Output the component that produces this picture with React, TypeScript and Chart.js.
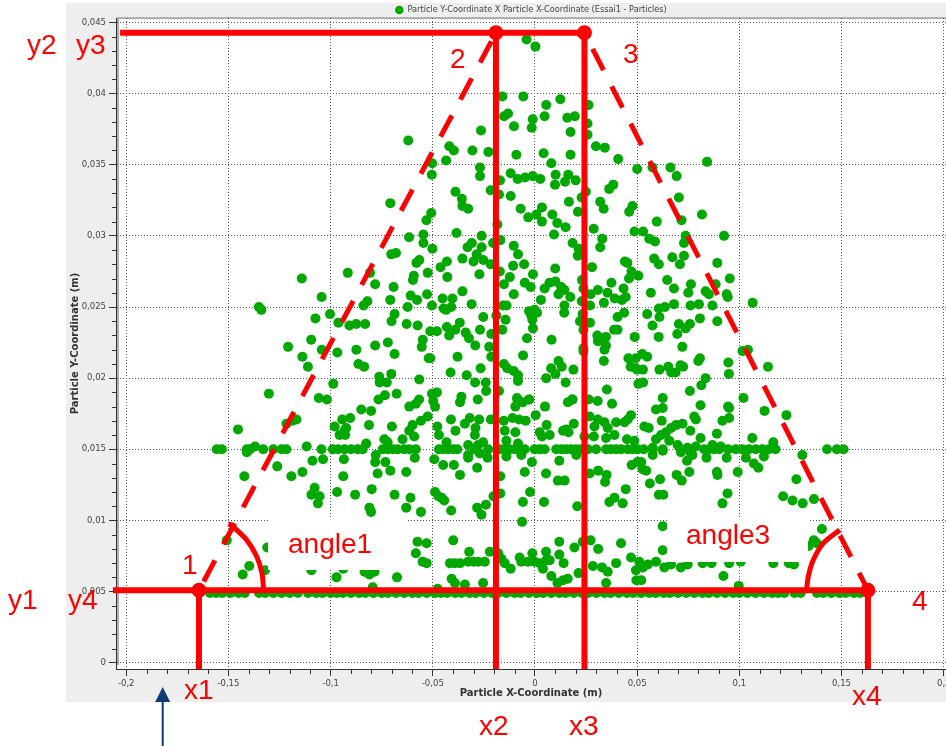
import React, { useEffect, useRef } from "react";
import { Chart, registerables } from "chart.js";

Chart.register(...registerables);

// All particle coordinates are in millimetres: [x, y].
const bandTop = [[-4.1,43.8],[0.2,43.3],[-16,39.8],[-5.7,39.8],[12.4,39.6],[5.5,39.2],[26.2,39.2],[-13.2,38.6],[-15.1,38.4],[-1.1,38.2],[4.7,38.4],[15.8,38.3],[19.5,38.4],[-10.3,37.7],[-1.6,37.6],[25.7,37.9],[-26.4,37.4],[17.4,37.3],[25.7,37.1],[-62,36.7],[-41.9,36.3],[-39.7,36],[-30.6,36],[-22.8,35.9],[29.8,36.3],[34.2,36.2],[-9.1,35.7],[4.2,35.8],[17.4,35.7],[40.7,35.4],[-43.5,35.3],[-50.3,35.1],[8,35.1],[-26.9,34.8],[-26.9,34.2],[-50.5,34.3],[-11.9,34.4],[-17.1,33.9],[-8.5,34],[-4.9,34.1],[-1.1,34.2],[2.6,34],[10.1,34.3],[16.3,34.3],[14.7,33.8],[9.8,33.6],[19.9,33.9],[50,34.7],[-38.9,33.1],[-21.7,33.2],[-17.6,32.9],[24.9,33.1],[38.3,33.6],[36.3,33.3],[-11.9,32.8],[-35.8,32.6],[22.8,32.7],[-70.8,32.3],[31.9,32.4],[47.7,32.1],[33.6,31.9],[-35.5,32.1],[-32.7,31.9],[16.6,32.4],[-7,31.9],[3.4,32],[21,31.7],[46.1,31.7],[-50.8,31.6],[-53.1,31.1],[0.7,31.5],[-3.3,31.3],[8.5,31.5],[3.4,31],[10.9,30.9],[15,30.6],[-18.4,30.8],[28.7,30.5],[48.7,30.3],[-38.4,30.2],[-54.6,30.1],[-26.1,30],[9.3,30.1],[-61.6,29.9],[-54.6,29.5],[-16.9,29.7],[-20.5,29.5],[-30.9,29.5],[-33,29.2],[-26.1,29.2],[-10.4,29.3],[18.4,29.5],[32.9,29.8],[31.9,29.2],[21.3,29.1],[-50.2,29.1]];

const bandUpperMid = [[-35.5,28.4],[-43.1,28.2],[-46.2,27.8],[-42.9,27.1],[-28.5,28.7],[-30.1,28.2],[-25.3,28.3],[-21.7,28],[-27.2,27.3],[-8.3,28.7],[-10.7,27.9],[-5.3,28],[-1,27.3],[-17.2,27.5],[-12.3,27.1],[-15.2,26.6],[-5,26.7],[-2.1,26.4],[20.9,28.6],[27.9,27.8],[9.9,27.7],[45.2,28.1],[44,28.2],[47.2,27.5],[46,27],[50.6,27.2],[37.4,26.7],[23,26.9],[10,26.8],[7.1,26.7],[4.7,26.3],[12.8,26.4],[14.4,26.2],[11.5,25.9],[43.3,26.3],[30.8,26.2],[35.5,26],[23.7,26.3],[27.2,25.9],[-35.5,26.1],[-10.4,25.9],[17.3,25.7],[44.4,25.7],[39,25.6],[42.5,25.5],[-45.2,25.6],[-40.4,25.6],[2.9,25.5],[33.7,25.3],[22.9,25.4],[26.9,25.1],[-31,25.2],[-50.4,25.1],[-41,25],[-44.7,24.9],[-43.5,24.8],[-15.6,25.1],[-13.9,25.1],[14.4,25.1],[14.3,24.6],[-2.9,24.7],[-0.2,24.8],[1,24.6],[-1.8,24.4],[-1.3,24.1],[-1,23.5],[43.6,24.6],[40.4,24.3],[-25.3,24.3],[-14.4,24.1],[-18.9,24.4],[23.3,24.5],[22,24],[26.9,23.9],[-36.8,23.9],[-43.1,23.6],[-39,23.4],[-48,23.3],[-51.2,23.3],[-33.9,23.2],[-42,23],[-26.9,23.4],[-16,23.4],[23.7,23.4],[38.7,23.4],[40.4,23.4],[-21.4,23.1],[-32.3,22.8],[30.5,23],[34.7,22.9],[48.8,22.9],[30.8,22.6],[-3.9,22.8],[8.1,22.7],[-29.2,22.3],[34.7,22.3],[34,22],[-22.4,22.2],[23.7,22.1],[23.7,21.9],[-37.9,21.5],[-5.8,21.6],[-21.4,21.5],[-51.2,21.4],[45.7,21.4],[49.3,21.4],[33.7,21.2],[11.5,21.2],[-15.2,21],[-13.6,20.7],[13.1,20.8],[7.9,20.7],[-26.6,20.7],[18.8,20.6],[46.8,20.8],[50,20.6],[-10.4,20.5],[-8.3,20.2],[-41.3,20.4],[10,20.3],[-33.4,20.2],[5.5,20],[-8.3,19.8],[-29.3,19.7],[-24.1,19.7],[15,19.7],[-23.9,19.1],[-17.6,19.1],[35.2,19.2],[50.6,19.6],[-48,19],[-50.4,18.9],[-36,18.7],[-8.8,18.6],[-2.9,18.5],[18.2,18.5],[-28,18.5],[26.3,18.5]];

const bandRightUpper = [[84.2,35.2],[57.5,34.8],[66.3,34.8],[69.3,34.2],[70.4,32.7],[81.7,31.5],[59.6,31],[71.7,31.1],[52.9,30.3],[55.9,29.8],[58.7,29.6],[73.7,30],[72.9,29.5],[92.5,30],[58.3,28.4],[60.6,28],[67.2,28.5],[72.9,28.6],[70.9,28],[89.2,28.1],[64.7,26.9],[68,26.3],[56.7,26],[76.3,26.6],[75,26],[83.5,26.1],[85.1,25.9],[88.4,26.6],[95.3,27],[93.8,25.9],[94.3,25.7],[106.5,25.3],[68,25.2],[60.6,24.9],[63.6,25],[60.9,24.3],[54.9,24.5],[76.1,25.1],[80.2,25.2],[86.8,25.1],[80.7,24.2],[89.2,24],[70.4,23.8],[75.8,23.8],[73.7,23.5],[57.5,23.7],[69.6,23.1],[60.5,22.9],[72.1,22.2],[101.5,21.9],[104.2,22],[54.9,21.5],[52.5,21.7],[80.7,21.4],[79.9,21.2],[94.6,21.1],[94.9,20.3],[114,20.8],[71.2,20.9],[72.5,20.8],[65.2,20.8],[60.9,20.6],[52.8,20.6],[49.2,20.7],[66.7,20.4],[68.8,20.4],[83.5,20],[81.4,19.5],[52.9,19.7],[75.8,19.1]];

const bandLeftUpper = [[-70.3,28.7],[-68,28.8],[-56.6,28.3],[-58,28.1],[-52.5,27.4],[-91.6,27.4],[-80.7,27.4],[-114.1,27],[-59.3,27.2],[-59.7,26.9],[-78.2,26.6],[-69.2,26.4],[-52.8,25.9],[-104.4,25.7],[-60.8,25.8],[-57.7,25.5],[-82,25.4],[-83.9,25.1],[-70.8,25.5],[-62.3,25],[-135.1,25],[-133.9,24.8],[-100.3,24.5],[-107.4,24.2],[-68.7,24.5],[-70.2,24],[-96.2,23.9],[-90.8,23.7],[-87.5,23.8],[-83.1,23.8],[-62.8,23.8],[-57.4,23.7],[-54.9,22.7],[-55.4,22.2],[-109.5,22.7],[-120.8,22.2],[-104.3,22],[-96.7,21.8],[-87.4,22],[-78.2,22.3],[-72,22.5],[-68.7,21.7],[-113.8,21.5],[-111.1,20.8],[-86.4,21],[-83.6,20.8],[-52,21.4],[-76.2,20.1],[-76,19.7],[-72.5,19.7],[-70.3,20.3],[-56.6,19.9],[-98.7,19.6]];

const bandLeftLower = [[-130.2,18.9],[-105.8,18.6],[-101.8,18.5],[-85,17.8],[-80.2,17.7],[-76.6,18.5],[-73.4,18.8],[-67.7,18.9],[-58.3,18.2],[-61.5,18],[-56.7,18.5],[-55.8,17],[-116.7,17.1],[-118.8,17],[-121.6,16.8],[-145.3,16.4],[-98,16.6],[-94.3,17.1],[-90.4,17.2],[-92.4,16.5],[-93.2,16.3],[-95.6,16],[-92.9,16],[-81.2,16.7],[-70,16.6],[-59.9,16.7],[-61.5,16.3],[-59.1,15.9],[-64.8,15.7],[-73.7,15.7],[-72.1,15.5],[-82.6,15.4],[-111.7,15.2],[-137,15.2],[-141,14.8],[-108.9,14.2],[-103.7,14.3],[-93.5,14.3],[-77.9,14.6],[-78.2,14.1],[-73.2,14.1],[-58.8,14.4],[-126.1,13.8],[-113.8,13.4],[-119.2,13.1],[-142.2,13.1],[-93.8,13.1],[-77,13.3],[-70.8,13.5],[-63,13.4],[-107.8,12.3],[-109.4,11.8],[-105.4,11.7],[-106.2,11.2],[-96.8,12],[-88,11.8],[-79.9,12.2],[-68.7,11.8],[-60.9,11.6],[-63,10.9],[-81,10.9],[-80.2,10.6],[-55.8,10.6],[-150.8,8.6],[-131,8.1],[-139.8,6.8],[-143,6.2],[-132.1,6.5],[-109.4,6.5],[-97.1,6],[-67.5,6],[-81,6.2],[-83.4,6.4],[-78.5,6.4],[-57.5,8.5],[-58.3,7.7],[-55,7.1],[-79.4,5.3],[-93.8,6.6]];

const bandMidLower = [[-48.9,18],[-49.8,18.4],[-52.5,17.3],[-36.7,18.3],[-41.1,17.1],[-38.9,16.3],[-47.8,16.6],[-47,16],[-31.9,17.2],[-34.3,16.8],[-27.3,17.1],[-29.1,16.5],[-29.4,16],[-21.6,17.1],[-15.3,17],[-14.8,16.3],[-9.6,16.2],[-14,15.6],[-8.3,15.4],[-11,17.2],[-7.8,17.1],[-4.5,17],[0.3,17.4],[4.9,18],[-8.6,18.5],[-9.6,18],[-5.9,18.3],[-2.8,18.5],[16.1,18.3],[18.4,18.5],[30.7,18.4],[37.7,18.2],[26.7,17.3],[5.7,16.7],[2.3,16.2],[3.4,15.9],[7.2,16],[15.3,16.4],[13.7,16.3],[19,16.8],[16.4,16.2],[24.2,15.9],[30.7,17.1],[29.1,16.6],[34,16.9],[35.6,16.5],[28.8,15.9],[34.8,15.8],[38.9,16],[39.7,16.9],[43.8,16.9],[45.4,17.1],[47,17.4],[45,15.7],[48.6,15.6],[-25.4,15.5],[-27.8,15.3],[-32.7,15.3],[-43.3,15.5],[53.5,16.6],[-49.3,14.3],[-44.9,13.9],[-39.7,13.9],[-32.7,14.6],[-32.7,14.4],[-27,14.7],[-23.2,14.4],[-36.7,13.2],[-28.3,13.7],[-14,14.5],[-6.7,14.6],[-1.5,14.1],[11.9,14.2],[20.2,14.6],[-17,13.1],[-5,13.4],[5.4,13.3],[26.7,13.3],[30.9,13.5],[35,13.2],[34.3,12.7],[11.2,12.8],[14.5,12.8],[47.3,13.9],[50.2,14.1],[52.7,13.6],[44.4,12.2],[-2.4,12],[-17,11.9],[-20.3,11.7],[-48.9,12],[-47.3,11.7],[-45.7,11.6],[-44.4,11.4],[-5.9,11.3],[4.4,11.3],[-24,11.1],[-28.3,10.9],[-26.2,10.4],[-41,10.7],[20.7,11],[38.9,11.6],[36.4,11.3],[42.9,11.2],[-6.3,9.9],[-40,8.6],[-53,8.4],[11.9,8.5],[27.2,8.6],[23.4,8.5],[42.1,8.4],[30.9,8],[19.3,8.1],[5.4,7.8],[11.9,7.6],[-1.3,7.7],[-22.1,7.8],[-32.2,7.8],[47,7.4],[-7.5,7.4],[14,7],[7.2,7.2],[-53,7],[-41.6,7],[-39.2,7],[-36.7,7],[-32.7,7.1],[-30.2,7.1],[-27.8,7.1],[-24.6,7.1],[-18,7.7],[-16.4,7.3],[-14.8,7],[-11.9,6.6],[-6.7,7.1],[-3.4,7.1],[-0.2,7.1],[2.3,7],[3.9,6.6],[5.5,7.2],[28.3,6.8],[32.8,6.7],[35.6,6.4],[39.7,7],[49.4,6.5],[51,7.1],[8,6.1],[21.3,6.3],[-40.8,5.9],[16,5.9],[13.7,5.8],[11,5.6],[-25.4,5.6],[49.6,5.8],[34.8,5.6],[-34.3,5.5],[-39.2,5.6],[-47.6,5.2]];

const bandRightLower = [[102,18.6],[62.5,18.6],[62.5,17.9],[59.2,17.8],[81,18.1],[95,17.9],[94.5,18],[112.3,17.7],[123,17.4],[95,17.2],[91.7,17],[77.9,17.3],[78.7,17.1],[62,17],[55.7,16.5],[72.2,16.8],[69,16.7],[66.6,16.5],[64.1,16.2],[61.7,16],[59.2,15.7],[76,16.3],[89,16.1],[81,15.8],[65.7,15.6],[69.8,15.3],[78.7,15.2],[74.7,15.1],[106.3,15.8],[116.6,15.5],[86.9,15.3],[90.9,15.2],[57.6,15.1],[71.4,14.8],[76.3,14.7],[77,14.6],[57.6,14.6],[62.5,14.9],[83.9,14.4],[93.8,14.4],[103.2,14.4],[112,14.5],[107.1,14],[109.3,13.7],[130.8,14.6],[74.4,14.2],[52,14.1],[54.4,13.5],[75.5,13.4],[89,13.4],[89.3,13.2],[99.2,13.4],[69.3,13.2],[71.8,12.8],[61.2,12.9],[56.2,12.6],[127.9,12.9],[60.6,11.8],[62.8,11.8],[94.2,11.9],[91.7,11.2],[121.4,11.7],[126,11.4],[131,11.2],[136.5,11.5],[62.5,9.6],[140.4,9.4],[136.4,8.6],[133.9,8.2],[137.9,8.4],[62.5,7.9],[52.8,6.7],[55.2,6.9],[59.2,7.1],[63.3,6.7],[66.6,6.9],[71.4,6.7],[74.7,6.9],[82,7],[86.4,7],[95,7],[100.6,7.1],[116.6,7],[124.2,7],[126.7,6.9],[52,5.8],[92.2,6.1],[99.7,5.4]];

const rowNearFifteen = [-155.7,-153.2,-141,-139.4,-133,-128,-124,-121.6,-104.5,-98.9,-96.4,-93.2,-90,-86.7,-84.3,-74.5,-72,-69.6,-67.2,-64,-61.5,-58.3,-47,-44.9,-42.5,-40,-38,-29.4,-22.9,-17.2,-14.8,-12.4,-9.8,-7.4,-5,-0.2,2.3,4.7,10.4,12.9,15.3,17.7,20.2,22.6,25.9,29.9,34.8,37.2,39.7,42.1,45.4,47.8,50.2,53.2,57.6,62.5,71.4,76.3,82.8,85.2,87.7,90.1,94.5,98.2,101.5,104.7,108,111.2,114.4,117.7,142.9,147.7,151];

const rowNearFive = [-159,-156,-153,-149,-145,-142,-135,-132,-128,-124,-120,-116,-111,-107,-104,-100,-97,-94,-90,-86,-83,-79,-75,-72,-68,-64,-60,-57,-53,-49,-46,-43,-39,-36,-32,-29,-25,-21,-18,-14,-10,-7,-3,1,4,8,12,15,19,23,26,30,34,37,41,45,48,52,56,59,63,66,70,74,78,82,85,89,93,97,100,104,108,112,116,119,122,127,130,138,141,145,149,152,156,159];

// Construction lines, millimetres
const cornerX = [-164.4, -19.1, 24.2, 162.9];
const lowerY = 5.09;
const upperY = 44.27;
const axisFootY = -0.44;
const topLineStartX = -203;
const lowerLineStartX = -206.5;
const arc1 = [[-150,9.75],[-148.7,9.68],[-141,8.62],[-136.1,7.45],[-133.6,6.3],[-132.8,5.2]];
const arc3 = [[149.1,9.33],[141,8.39],[136.1,7.2],[133.7,6.05],[132.9,5.1]];

const xMajor = [-0.2,-0.15,-0.1,-0.05,0,0.05,0.1,0.15,0.2];
const xLabels = ["-0,2","-0,15","-0,1","-0,05","0","0,05","0,1","0,15","0,2"];
const yMajor = [0,0.005,0.01,0.015,0.02,0.025,0.03,0.035,0.04,0.045];
const yLabels = ["0","0,005","0,01","0,015","0,02","0,025","0,03","0,035","0,04","0,045"];
const xMinor = [-0.19,-0.18,-0.17,-0.16,-0.14,-0.13,-0.12,-0.11,-0.09,-0.08,-0.07,-0.06,-0.04,-0.03,-0.02,-0.01,0.01,0.02,0.03,0.04,0.06,0.07,0.08,0.09,0.11,0.12,0.13,0.14,0.16,0.17,0.18,0.19];
const yMinor = [0.001,0.002,0.003,0.004,0.006,0.007,0.008,0.009,0.011,0.012,0.013,0.014,0.016,0.017,0.018,0.019,0.021,0.022,0.023,0.024,0.026,0.027,0.028,0.029,0.031,0.032,0.033,0.034,0.036,0.037,0.038,0.039,0.041,0.042,0.043,0.044];

const legendText = "Particle Y-Coordinate X Particle X-Coordinate (Essai1 - Particles)";
const xTitle = "Particle X-Coordinate (m)";
const yTitle = "Particle Y-Coordinate (m)";

const RED = "#ff0000";
const GREEN = "#00a800";
const UI_FONT = "'DejaVu Sans'";

const m = (mm: number) => mm / 1000;
const pts = (list: number[][]) => list.map(([x, y]) => ({ x: m(x), y: m(y) }));

const particles = [
  ...pts(bandTop), ...pts(bandUpperMid), ...pts(bandRightUpper), ...pts(bandLeftUpper),
  ...pts(bandLeftLower), ...pts(bandMidLower), ...pts(bandRightLower),
  ...rowNearFifteen.map((x) => ({ x: m(x), y: 0.015 })),
  ...rowNearFive.map((x) => ({ x: m(x), y: 0.0049 })),
];

const redLine = (data: any[], extra: any = {}) => ({
  data, showLine: true, pointRadius: 0, borderColor: RED, backgroundColor: RED,
  borderWidth: 6, clip: false, label: "", ...extra,
});

const annotations: [string, number, number][] = [
  ["y2", 27, 54], ["y3", 76, 54], ["2", 450, 68], ["3", 623, 63], ["1", 182, 574],
  ["y1", 8, 609], ["y4", 68, 609], ["x1", 184, 699], ["x2", 479, 735], ["x3", 569, 735],
  ["x4", 852, 705], ["4", 912, 610], ["angle1", 288, 553], ["angle3", 686, 544],
];

const overlay = {
  id: "overlay",
  beforeLayout(chart: any) {
    const legend = chart.legend;
    if (legend && !legend.__fixedHeight) {
      const fit = legend.fit;
      legend.fit = function () {
        fit.call(this);
        this.height = 15;
      };
      legend.__fixedHeight = true;
    }
  },
  beforeDraw(chart: any) {
    const { ctx, chartArea: a } = chart;
    ctx.save();
    ctx.fillStyle = "#eeeeee";
    ctx.fillRect(66, 3, 880, 699);
    ctx.fillStyle = "#ffffff";
    ctx.fillRect(a.left + 2, a.top, a.right - a.left, a.bottom - a.top);
    ctx.fillStyle = "#b0b0b0";
    ctx.fillRect(a.left + 2, a.top - 1, a.right - a.left, 2);
    ctx.fillRect(a.left + 1, a.top - 1, 2, a.bottom - a.top - 3);
    ctx.restore();
  },
  afterDatasetDraw(chart: any, args: any) {
    if (args.index !== 0) return;
    const { ctx } = chart;
    ctx.save();
    ctx.fillStyle = "#ffffff";
    ctx.fillRect(268, 517, 140, 53);
    ctx.fillRect(667, 517, 141, 45);
    ctx.restore();
  },
  afterDatasetsDraw(chart: any) {
    const { ctx, scales } = chart;
    ctx.save();
    ctx.strokeStyle = "#333333";
    ctx.lineWidth = 1;
    const xb = chart.chartArea.bottom;
    ctx.beginPath();
    xMinor.forEach((v) => {
      const p = Math.round(scales.x.getPixelForValue(v)) + 0.5;
      ctx.moveTo(p, xb);
      ctx.lineTo(p, xb + 5);
    });
    const yl = chart.chartArea.left;
    yMinor.forEach((v) => {
      const p = Math.round(scales.y.getPixelForValue(v)) + 0.5;
      ctx.moveTo(yl, p);
      ctx.lineTo(yl - 4, p);
    });
    ctx.stroke();
    ctx.restore();
  },
  afterDraw(chart: any) {
    const { ctx } = chart;
    ctx.save();
    ctx.fillStyle = RED;
    ctx.font = "28px 'Liberation Sans'";
    ctx.textBaseline = "alphabetic";
    ctx.textAlign = "left";
    annotations.forEach(([t, x, y]) => ctx.fillText(t, x, y));
    ctx.strokeStyle = "#0b3c72";
    ctx.fillStyle = "#0b3c72";
    ctx.lineWidth = 2;
    ctx.beginPath();
    ctx.moveTo(162.7, 746);
    ctx.lineTo(162.7, 700);
    ctx.stroke();
    ctx.beginPath();
    ctx.moveTo(162.7, 687);
    ctx.lineTo(170.2, 702);
    ctx.lineTo(155.2, 702);
    ctx.closePath();
    ctx.fill();
    ctx.restore();
  },
};

export default function App() {
  const ref = useRef<HTMLCanvasElement | null>(null);
  useEffect(() => {
    const [x1, x2, x3, x4] = cornerX;
    const chart = new Chart(ref.current as HTMLCanvasElement, {
      type: "scatter",
      data: {
        datasets: [
          { label: legendText, data: particles, backgroundColor: GREEN, borderColor: GREEN, borderWidth: 0, pointRadius: 5, pointHoverRadius: 5, order: 10 },
          redLine(pts([[topLineStartX, upperY], [x3, upperY]]), { order: 5 }),
          redLine(pts([[lowerLineStartX, lowerY], [x4, lowerY]]), { order: 5 }),
          redLine(pts([[x1, lowerY], [x1, axisFootY]]), { order: 5 }),
          redLine(pts([[x2, upperY], [x2, axisFootY]]), { order: 5 }),
          redLine(pts([[x3, upperY], [x3, axisFootY]]), { order: 5 }),
          redLine(pts([[x4, lowerY], [x4, axisFootY]]), { order: 5 }),
          redLine(pts([[x1, lowerY], [x2, upperY]]), { order: 5, borderWidth: 5, borderDash: [24, 18], borderDashOffset: -10 }),
          redLine(pts([[x3, upperY], [x4, lowerY]]), { order: 5, borderWidth: 5, borderDash: [24, 18], borderDashOffset: -18 }),
          redLine(pts(arc1), { order: 5, borderWidth: 5, tension: 0.3 }),
          redLine(pts(arc3), { order: 5, borderWidth: 5, tension: 0.3 }),
          { label: "", data: pts([[x1, lowerY], [x2, upperY], [x3, upperY], [x4, lowerY]]), backgroundColor: RED, borderWidth: 0, pointRadius: 7.5, clip: false, order: 1 },
        ],
      },
      options: {
        animation: false,
        responsive: false,
        maintainAspectRatio: false,
        events: [],
        layout: { autoPadding: false, padding: { left: 66, right: 0, top: 3, bottom: 44 } },
        plugins: {
          tooltip: { enabled: false },
          title: { display: false },
          legend: {
            display: true,
            position: "top",
            fullSize: false,
            labels: {
              usePointStyle: true,
              pointStyle: "circle",
              boxHeight: 6,
              padding: 3,
              color: "#444444",
              font: { family: UI_FONT, size: 8.2 },
              filter: (item: any) => item.datasetIndex === 0,
            },
          },
        },
        scales: {
          x: {
            type: "linear",
            min: -0.205,
            max: 0.2011,
            afterBuildTicks: (s: any) => { s.ticks = xMajor.map((value) => ({ value })); },
            afterFit: (s: any) => { s.height = 33; s.paddingLeft = 0; s.paddingRight = 0; },
            grid: { color: "#555555", tickColor: "#333333", tickLength: 7, lineWidth: 1 },
            border: { color: "#333333", dash: [1, 2], width: 1 },
            ticks: {
              autoSkip: false, maxRotation: 0, padding: 3, color: "#444444",
              font: { family: UI_FONT, size: 8.5 },
              callback: (_v: any, i: number) => xLabels[i],
            },
            title: { display: true, text: xTitle, color: "#333333", font: { family: UI_FONT, size: 10, weight: "bold" }, padding: { top: 0, bottom: 3 } },
          },
          y: {
            type: "linear",
            min: -0.00044,
            max: 0.04531,
            afterBuildTicks: (s: any) => { s.ticks = yMajor.map((value) => ({ value })); },
            afterFit: (s: any) => { s.width = 50; s.paddingTop = 0; s.paddingBottom = 0; },
            grid: { color: "#555555", tickColor: "#333333", tickLength: 7, lineWidth: 1 },
            border: { color: "#333333", dash: [1, 2], width: 1 },
            ticks: {
              autoSkip: false, padding: 3, color: "#444444",
              font: { family: UI_FONT, size: 8.5 },
              callback: (_v: any, i: number) => yLabels[i],
            },
            title: { display: true, text: yTitle, color: "#333333", font: { family: UI_FONT, size: 10, weight: "bold" }, padding: { top: 3, bottom: 0 } },
          },
        },
      },
      plugins: [overlay],
    } as any);
    return () => chart.destroy();
  }, []);
  return (
    <canvas
      ref={ref}
      width={946}
      height={746}
      style={{ position: "absolute", left: 0, top: 0, display: "block", width: 946, height: 746 }}
    />
  );
}
